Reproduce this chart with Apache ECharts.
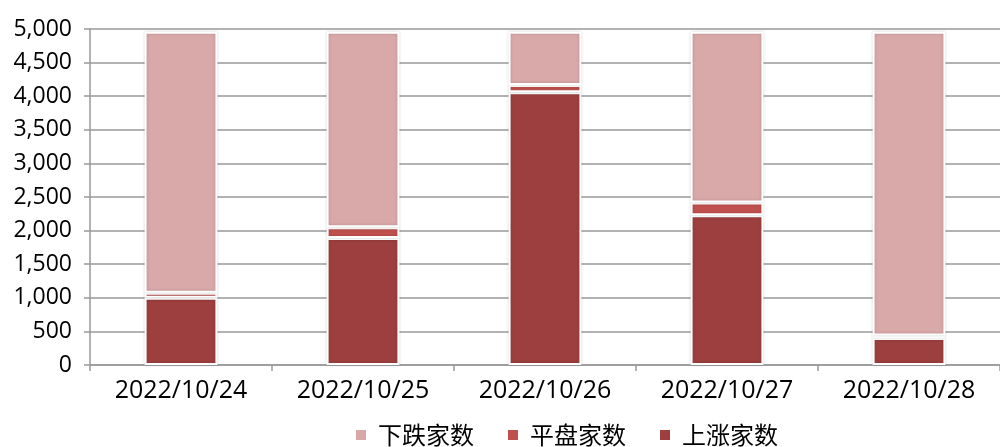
<!DOCTYPE html>
<html><head><meta charset="utf-8">
<script src="https://cdn.jsdelivr.net/npm/echarts@6/dist/echarts.min.js"></script>
<style>html,body{margin:0;padding:0;background:#fff}#c{width:1000px;height:447px}</style>
</head><body><div id="c"></div>
<script>
const categories = ['2022/10/24','2022/10/25','2022/10/26','2022/10/27','2022/10/28'];
const upValues = [1000, 1890, 4060, 2230, 400];
const flatValues = [75, 160, 105, 190, 40];
const downValues = [3885, 2910, 795, 2540, 4520];
const yTicks = [0, 500, 1000, 1500, 2000, 2500, 3000, 3500, 4000, 4500, 5000];

const latin = '"Open Sans", "Noto Sans CJK SC", sans-serif';
const cjk = '"Noto Sans CJK SC", sans-serif';
const itemStyleBase = {borderColor:'#fff', borderWidth:2, shadowColor:'rgba(0,0,0,0.18)', shadowBlur:3};
const chart = echarts.init(document.getElementById('c'));
chart.setOption({
  animation:false,
  textStyle:{fontFamily:latin},
  grid:{left:90, right:0, top:29, bottom:82},
  legend:{
    data:['下跌家数','平盘家数','上涨家数'],
    left:349, top:418, icon:'rect', itemWidth:12, itemHeight:12, itemGap:32,
    textStyle:{fontSize:24, color:'#000', fontFamily:cjk, padding:[0,0,0,6]}
  },
  xAxis:{
    type:'category', data:categories,
    axisLine:{lineStyle:{color:'#999', width:1.5}},
    axisTick:{show:true, length:6, lineStyle:{color:'#999', width:1.5}},
    axisLabel:{fontSize:25, color:'#000', margin:13, fontFamily:latin}
  },
  yAxis:{
    type:'value', min:yTicks[0], max:yTicks[yTicks.length-1], interval:500,
    axisLine:{show:true, lineStyle:{color:'#999', width:1.5}},
    axisTick:{show:true, length:6, lineStyle:{color:'#999', width:1.5}},
    splitLine:{lineStyle:{color:'#999', width:1.5}},
    axisLabel:{fontSize:23, color:'#000', margin:18, fontFamily:latin,
      formatter:v=>v.toLocaleString('en-US')}
  },
  series:[
    {name:'上涨家数', type:'bar', stack:'s', data:upValues, barWidth:'40%',
      itemStyle:Object.assign({color:'#9c3f3e'}, itemStyleBase)},
    {name:'平盘家数', type:'bar', stack:'s', data:flatValues,
      itemStyle:Object.assign({color:'#c0504d'}, itemStyleBase)},
    {name:'下跌家数', type:'bar', stack:'s', data:downValues,
      itemStyle:Object.assign({color:'#d9a8a9'}, itemStyleBase)}
  ]
});
</script></body></html>
